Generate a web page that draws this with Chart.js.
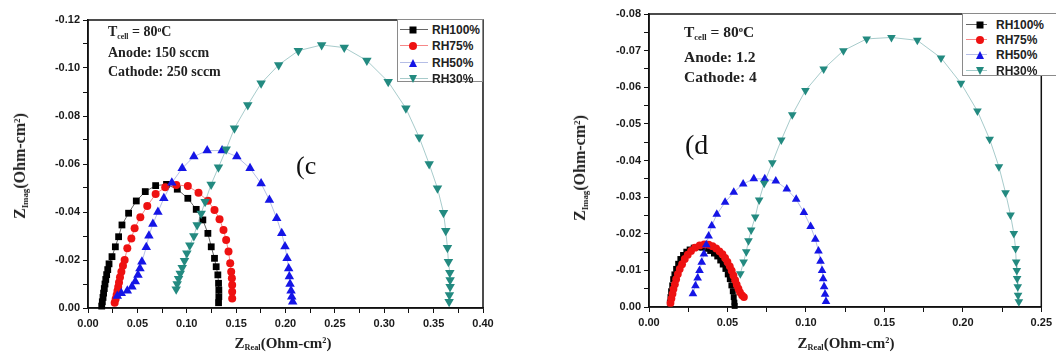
<!DOCTYPE html>
<html>
<head>
<meta charset="utf-8">
<script src="https://cdn.jsdelivr.net/npm/chart.js@4.4.1/dist/chart.umd.min.js"></script>
<style>
  html, body { margin: 0; padding: 0; background: #fff; }
  #wrap { position: relative; width: 1056px; height: 358px; overflow: hidden; background: #fff; }
  .panel { position: absolute; top: 0; height: 358px; }
  #panelC { left: 0; width: 540px; }
  #panelD { left: 540px; width: 516px; }
  .note { position: absolute; font-family: "Liberation Serif", "Times New Roman", serif; font-weight: bold; color: #222; white-space: nowrap; line-height: 1; }
  .note sub, .axt sub { font-size: 55%; vertical-align: -0.35em; line-height: 0; }
  .note sup, .axt sup { font-size: 55%; vertical-align: 0.55em; line-height: 0; }
  .tag { position: absolute; font-family: "Liberation Serif", "Times New Roman", serif; color: #111; line-height: 1; }
  .axt { position: absolute; font-family: "Liberation Serif", "Times New Roman", serif; font-weight: bold; font-size: 15px; white-space: nowrap; color: #222; line-height: 1; }
  .axt.vert { font-size: 16px; }
  .legend { position: absolute; background: #fff; border: 1px solid #8a8a8a; box-sizing: border-box; }
  .legend .ln { position: absolute; height: 1px; }
  .legend .mk { position: absolute; transform: translate(-50%, -50%); }
  .legend .tx { position: absolute; font-family: "Liberation Sans", Arial, sans-serif; font-weight: bold; font-size: 12px; color: #222; line-height: 1; transform: translateY(-50%); }
</style>
</head>
<body>
<div id="wrap">
  <div class="panel" id="panelC"><canvas id="chartC" width="540" height="358"></canvas></div>
  <div class="panel" id="panelD"><canvas id="chartD" width="516" height="358"></canvas></div>

  <div class="note" style="left:108px; top:25px; font-size:14px;">T<sub>cell</sub> = 80<sup>o</sup>C</div>
  <div class="note" style="left:108px; top:46px; font-size:14px;">Anode: 150 sccm</div>
  <div class="note" style="left:108px; top:65px; font-size:14px;">Cathode: 250 sccm</div>
  <div class="tag" style="left:296px; top:153px; font-size:26px;">(c</div>

  <div class="note" style="left:684px; top:24px; font-size:15.5px;">T<sub>cell</sub> = 80<sup>o</sup>C</div>
  <div class="note" style="left:684px; top:49px; font-size:15.5px;">Anode: 1.2</div>
  <div class="note" style="left:684px; top:69px; font-size:15.5px;">Cathode: 4</div>
  <div class="tag" style="left:685px; top:131px; font-size:28px;">(d</div>

  <div class="axt vert" style="left:20px; top:166px; transform: translate(-50%, -50%) rotate(-90deg);">Z<sub>Imag</sub>(Ohm-cm<sup>2</sup>)</div>
  <div class="axt" style="left:283px; top:343px; transform: translate(-50%, -50%);">Z<sub>Real</sub>(Ohm-cm<sup>2</sup>)</div>
  <div class="axt vert" style="left:580px; top:168px; transform: translate(-50%, -50%) rotate(-90deg);">Z<sub>Imag</sub>(Ohm-cm<sup>2</sup>)</div>
  <div class="axt" style="left:846px; top:343px; transform: translate(-50%, -50%);">Z<sub>Real</sub>(Ohm-cm<sup>2</sup>)</div>
</div>

<script>
// series names and colours
const seriesLabels = ['RH100%', 'RH75%', 'RH50%', 'RH30%'];
const seriesColors = ['#000000', '#ee1111', '#1515e6', '#238a80'];
const lineColors = ['rgba(0,0,0,0.6)', 'rgba(238,17,17,0.5)', 'rgba(90,110,200,0.45)', 'rgba(60,140,140,0.45)'];
const pointStyles = ['rect', 'circle', 'triangle', 'triangle'];
const pointRotations = [0, 0, 0, 180];

// panel (c): [Z_real, Z_imag] in Ohm-cm2
const rh100C = [[0.0139,-0.0008],[0.0145,-0.0026],[0.0152,-0.0044],[0.0158,-0.0062],[0.0165,-0.0081],[0.0172,-0.0100],[0.0180,-0.0119],[0.0189,-0.0139],[0.0200,-0.0160],[0.0213,-0.0184],[0.0243,-0.0214],[0.0277,-0.0255],[0.0310,-0.0297],[0.0344,-0.0346],[0.0411,-0.0395],[0.0489,-0.0446],[0.0580,-0.0485],[0.0685,-0.0510],[0.0795,-0.0515],[0.0904,-0.0495],[0.1011,-0.0457],[0.1096,-0.0411],[0.1163,-0.0367],[0.1214,-0.0311],[0.1248,-0.0255],[0.1281,-0.0207],[0.1298,-0.0172],[0.1315,-0.0138],[0.1322,-0.0103],[0.1325,-0.0075],[0.1325,-0.0047],[0.1322,-0.0022]];
const rh75C = [[0.0270,-0.0022],[0.0280,-0.0038],[0.0290,-0.0054],[0.0298,-0.0071],[0.0306,-0.0088],[0.0314,-0.0106],[0.0324,-0.0128],[0.0338,-0.0151],[0.0354,-0.0176],[0.0371,-0.0200],[0.0398,-0.0249],[0.0439,-0.0290],[0.0472,-0.0332],[0.0530,-0.0378],[0.0600,-0.0425],[0.0685,-0.0475],[0.0782,-0.0503],[0.0894,-0.0513],[0.1011,-0.0508],[0.1119,-0.0480],[0.1214,-0.0447],[0.1281,-0.0408],[0.1332,-0.0370],[0.1372,-0.0325],[0.1399,-0.0283],[0.1423,-0.0235],[0.1440,-0.0186],[0.1450,-0.0151],[0.1457,-0.0124],[0.1460,-0.0096],[0.1460,-0.0068],[0.1460,-0.0040]];
const rh50C = [[0.0297,-0.0050],[0.0337,-0.0061],[0.0398,-0.0072],[0.0445,-0.0089],[0.0479,-0.0110],[0.0506,-0.0138],[0.0526,-0.0165],[0.0546,-0.0193],[0.0590,-0.0253],[0.0617,-0.0301],[0.0657,-0.0350],[0.0708,-0.0400],[0.0768,-0.0457],[0.0849,-0.0522],[0.0954,-0.0582],[0.1072,-0.0631],[0.1207,-0.0656],[0.1358,-0.0656],[0.1507,-0.0631],[0.1641,-0.0582],[0.1753,-0.0519],[0.1837,-0.0450],[0.1911,-0.0374],[0.1962,-0.0311],[0.1995,-0.0256],[0.2016,-0.0207],[0.2032,-0.0165],[0.2039,-0.0131],[0.2046,-0.0100],[0.2056,-0.0072],[0.2063,-0.0047],[0.2073,-0.0026]];
const rh30C = [[0.0893,-0.0078],[0.0903,-0.0100],[0.0917,-0.0122],[0.0934,-0.0144],[0.0954,-0.0168],[0.0977,-0.0197],[0.1001,-0.0228],[0.1031,-0.0261],[0.1072,-0.0300],[0.1105,-0.0346],[0.1146,-0.0394],[0.1186,-0.0443],[0.1247,-0.0515],[0.1321,-0.0586],[0.1399,-0.0661],[0.1483,-0.0749],[0.1618,-0.0846],[0.1753,-0.0936],[0.1931,-0.1013],[0.2130,-0.1072],[0.2366,-0.1096],[0.2595,-0.1085],[0.2824,-0.1031],[0.3040,-0.0943],[0.3219,-0.0832],[0.3354,-0.0711],[0.3455,-0.0600],[0.3539,-0.0499],[0.3600,-0.0397],[0.3623,-0.0322],[0.3640,-0.0251],[0.3650,-0.0193],[0.3664,-0.0147],[0.3667,-0.0117],[0.3667,-0.0089],[0.3660,-0.0054],[0.3657,-0.0026]];

// panel (d)
const rh100D = [[0.0133,-0.0012],[0.0137,-0.0027],[0.0141,-0.0043],[0.0148,-0.0059],[0.0154,-0.0076],[0.0162,-0.0089],[0.0173,-0.0104],[0.0186,-0.0118],[0.0200,-0.0131],[0.0217,-0.0142],[0.0238,-0.0151],[0.0259,-0.0157],[0.0285,-0.0162],[0.0312,-0.0163],[0.0340,-0.0162],[0.0365,-0.0159],[0.0390,-0.0153],[0.0414,-0.0146],[0.0435,-0.0138],[0.0454,-0.0127],[0.0470,-0.0116],[0.0487,-0.0104],[0.0502,-0.0089],[0.0515,-0.0076],[0.0525,-0.0059],[0.0534,-0.0043],[0.0540,-0.0027],[0.0544,-0.0012],[0.0546,-0.0003]];
const rh75D = [[0.0137,-0.0011],[0.0143,-0.0023],[0.0150,-0.0036],[0.0156,-0.0049],[0.0165,-0.0062],[0.0173,-0.0076],[0.0184,-0.0090],[0.0196,-0.0104],[0.0211,-0.0117],[0.0228,-0.0131],[0.0247,-0.0143],[0.0268,-0.0153],[0.0293,-0.0162],[0.0323,-0.0168],[0.0352,-0.0171],[0.0380,-0.0170],[0.0405,-0.0166],[0.0428,-0.0160],[0.0449,-0.0152],[0.0468,-0.0144],[0.0485,-0.0134],[0.0500,-0.0123],[0.0515,-0.0111],[0.0527,-0.0099],[0.0538,-0.0086],[0.0549,-0.0073],[0.0559,-0.0061],[0.0570,-0.0050],[0.0580,-0.0040],[0.0593,-0.0032],[0.0605,-0.0027]];
const rh50D = [[0.0280,-0.0036],[0.0296,-0.0058],[0.0310,-0.0079],[0.0322,-0.0100],[0.0336,-0.0122],[0.0350,-0.0145],[0.0365,-0.0170],[0.0380,-0.0194],[0.0400,-0.0222],[0.0432,-0.0253],[0.0485,-0.0286],[0.0540,-0.0313],[0.0600,-0.0336],[0.0668,-0.0350],[0.0738,-0.0350],[0.0808,-0.0344],[0.0878,-0.0322],[0.0938,-0.0294],[0.0987,-0.0258],[0.1030,-0.0220],[0.1060,-0.0185],[0.1080,-0.0153],[0.1093,-0.0125],[0.1103,-0.0100],[0.1110,-0.0077],[0.1116,-0.0055],[0.1122,-0.0035],[0.1128,-0.0015]];
const rh30D = [[0.0582,-0.0091],[0.0603,-0.0123],[0.0620,-0.0151],[0.0634,-0.0181],[0.0651,-0.0210],[0.0677,-0.0246],[0.0702,-0.0292],[0.0734,-0.0338],[0.0786,-0.0394],[0.0843,-0.0456],[0.0913,-0.0525],[0.0997,-0.0591],[0.1113,-0.0650],[0.1239,-0.0700],[0.1387,-0.0732],[0.1545,-0.0736],[0.1710,-0.0728],[0.1861,-0.0680],[0.1988,-0.0611],[0.2093,-0.0535],[0.2171,-0.0458],[0.2230,-0.0383],[0.2272,-0.0312],[0.2304,-0.0251],[0.2325,-0.0201],[0.2336,-0.0160],[0.2340,-0.0123],[0.2344,-0.0100],[0.2346,-0.0078],[0.2350,-0.0055],[0.2352,-0.0032],[0.2357,-0.0014]];

// tick values
const xTicksC = [0, 0.05, 0.10, 0.15, 0.20, 0.25, 0.30, 0.35, 0.40];
const yTicksC = [-0.12, -0.10, -0.08, -0.06, -0.04, -0.02, 0];
const xTicksD = [0, 0.05, 0.10, 0.15, 0.20, 0.25];
const yTicksD = [-0.08, -0.07, -0.06, -0.05, -0.04, -0.03, -0.02, -0.01, 0];

// major ticks plus a minor tick halfway between each pair
function withMinor(major) {
    const out = [];
    for (let i = 0; i < major.length; i++) {
        out.push({ value: major[i] });
        if (i < major.length - 1) out.push({ value: (major[i] + major[i + 1]) / 2 });
    }
    return out;
}

const framePlugin = {
    id: 'frame',
    beforeDatasetsDraw(chart) {
        const a = chart.chartArea;
        const ctx = chart.ctx;
        ctx.save();
        ctx.strokeStyle = '#111';
        ctx.lineWidth = 1.5;
        ctx.strokeRect(a.left, a.top, a.right - a.left, a.bottom - a.top);
        ctx.restore();
    }
};

function axis(ticks, size, vertical, reverse) {
    return {
        type: 'linear',
        min: Math.min(...ticks),
        max: Math.max(...ticks),
        reverse: reverse,
        afterBuildTicks: s => { s.ticks = withMinor(ticks); },
        afterFit: s => { if (vertical) s.width = size; else s.height = size; },
        ticks: {
            autoSkip: false,
            maxRotation: 0,
            padding: vertical ? 3 : 4,
            color: '#1a1a1a',
            font: { family: 'Liberation Sans', weight: 'bold', size: 11 },
            callback: (v, i) => (i % 2 === 0 ? ticks[i / 2].toFixed(2) : '')
        },
        grid: { drawOnChartArea: false, drawTicks: true, tickLength: 5, color: '#111', tickWidth: 1 },
        border: { display: true, color: '#111', width: 1.5 }
    };
}

function makeChart(id, series, xTicks, yTicks, opts) {
    const datasets = series.map((pts, i) => ({
        label: seriesLabels[i],
        data: pts.map(p => ({ x: p[0], y: p[1] })),
        showLine: true,
        borderColor: lineColors[i],
        borderWidth: 1,
        pointStyle: pointStyles[i],
        rotation: pointRotations[i],
        pointRadius: opts.radius[i],
        pointBackgroundColor: seriesColors[i],
        pointBorderColor: seriesColors[i],
        pointBorderWidth: 0,
        order: series.length - i,
        clip: false
    }));

    return new Chart(document.getElementById(id), {
        type: 'scatter',
        data: { datasets },
        options: {
            responsive: false,
            animation: false,
            devicePixelRatio: 1,
            layout: { padding: opts.padding },
            plugins: { legend: { display: false }, tooltip: { enabled: false } },
            scales: {
                x: axis(xTicks, opts.xHeight, false, false),
                y: axis(yTicks, opts.yWidth, true, true)
            }
        },
        plugins: [framePlugin]
    });
}

makeChart('chartC', [rh100C, rh75C, rh50C, rh30C], xTicksC, yTicksC, {
    padding: { left: 0, top: 20, right: 57, bottom: 0 },
    yWidth: 88, xHeight: 50,
    radius: [4.8, 4, 5.5, 5.5]
});

makeChart('chartD', [rh100D, rh75D, rh50D, rh30D], xTicksD, yTicksD, {
    padding: { left: 0, top: 14, right: 12, bottom: 0 },
    yWidth: 109, xHeight: 51,
    radius: [4.2, 3.9, 5, 5]
});

// legends drawn as html boxes over the top-right corner of each plot
function markerHtml(i, size) {
    const c = seriesColors[i];
    if (pointStyles[i] === 'rect') return `width:${size}px;height:${size}px;background:${c};`;
    if (pointStyles[i] === 'circle') return `width:${size + 1}px;height:${size + 1}px;border-radius:50%;background:${c};`;
    const half = size / 2 + 1;
    const h = size + 1;
    if (pointRotations[i] === 180) return `width:0;height:0;border-left:${half}px solid transparent;border-right:${half}px solid transparent;border-top:${h}px solid ${c};`;
    return `width:0;height:0;border-left:${half}px solid transparent;border-right:${half}px solid transparent;border-bottom:${h}px solid ${c};`;
}

function makeLegend(box, rowY, lineX, markX, textX, size) {
    const el = document.createElement('div');
    el.className = 'legend';
    el.style.cssText = `left:${box.left}px;top:${box.top}px;width:${box.w}px;height:${box.h}px;`;
    seriesLabels.forEach((name, i) => {
        const y = rowY[i] - box.top;
        el.innerHTML +=
            `<div class="ln" style="left:${lineX[0] - box.left}px;width:${lineX[1] - lineX[0]}px;top:${y}px;background:${lineColors[i]};"></div>` +
            `<div class="mk" style="left:${markX - box.left}px;top:${y + 0.5}px;${markerHtml(i, size)}"></div>` +
            `<div class="tx" style="left:${textX - box.left}px;top:${y + 0.5}px;">${name}</div>`;
    });
    document.getElementById('wrap').appendChild(el);
}

makeLegend({ left: 397, top: 19, w: 86, h: 63 }, [28, 44, 61, 77], [399, 427], 412, 431, 7);
makeLegend({ left: 962, top: 13, w: 120, h: 63 }, [23, 38, 53, 69], [965, 986], 979, 995, 7);
</script>
</body>
</html>
